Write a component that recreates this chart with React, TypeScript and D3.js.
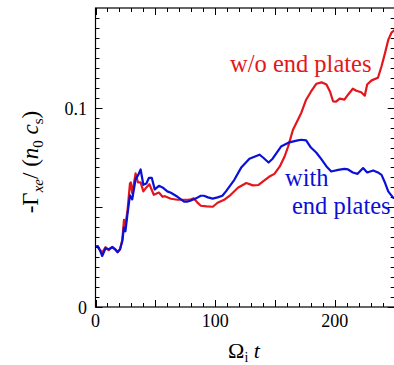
import { useEffect, useRef } from "react";
import * as d3 from "d3";

// time samples and flux for the run without end plates (red)
const redT = [0, 2, 4, 5.6, 8.4, 11, 14, 17, 18.5, 20.5, 22.4, 23.8, 25, 26.8, 28.8, 29.5, 30.7, 33.5, 35.5, 37.7, 40, 42.5, 45, 48.7, 53, 56, 58, 63, 68.5, 74, 77, 80, 82, 85, 88, 93, 98, 102, 107.5, 113, 119, 126, 131.5, 136, 140, 145, 149.5, 154, 158, 161, 165, 168, 172, 176, 180, 184.6, 188.8, 193, 196, 198.5, 201, 204, 208, 211, 215, 218, 222, 225, 227, 230.7, 236, 239, 242, 244.6, 247.5, 250];
const redV = [0.0303, 0.03, 0.0285, 0.0273, 0.03, 0.0285, 0.0302, 0.0288, 0.0275, 0.029, 0.0337, 0.0437, 0.041, 0.0487, 0.062, 0.0625, 0.057, 0.067, 0.0625, 0.0625, 0.058, 0.06, 0.0616, 0.0563, 0.0574, 0.0553, 0.0556, 0.0543, 0.0538, 0.0538, 0.0538, 0.054, 0.0545, 0.0525, 0.0508, 0.0505, 0.0503, 0.0523, 0.0538, 0.0563, 0.0598, 0.0622, 0.061, 0.0612, 0.063, 0.0653, 0.0668, 0.0705, 0.0755, 0.0806, 0.0889, 0.0925, 0.0975, 0.104, 0.108, 0.112, 0.1127, 0.1116, 0.108, 0.1032, 0.103, 0.1045, 0.104, 0.1065, 0.1095, 0.1085, 0.1077, 0.106, 0.1116, 0.1137, 0.115, 0.1208, 0.1276, 0.134, 0.1378, 0.1389];

// time samples and flux for the run with end plates (blue)
const blueT = [0, 2, 4, 5.6, 8.4, 11, 14, 17, 18.5, 20.5, 22.4, 23.8, 25, 26.8, 28.8, 30.7, 33.5, 35.5, 37.7, 40, 42.5, 44.7, 47, 49.5, 53, 56, 60, 63, 68.5, 74, 77, 80, 84, 88, 90.6, 94, 97.9, 102, 106, 109, 116, 121.6, 128.6, 137, 140, 144.6, 148, 155, 162, 169, 172, 176, 180, 184.6, 189, 193, 197, 202.8, 208, 211, 215, 219, 223.6, 227, 232, 236, 239, 242, 244.6, 248.8, 250];
const blueV = [0.0303, 0.0305, 0.028, 0.0256, 0.0295, 0.029, 0.03, 0.0285, 0.0275, 0.029, 0.033, 0.04, 0.038, 0.047, 0.056, 0.054, 0.064, 0.066, 0.069, 0.0613, 0.062, 0.0648, 0.0648, 0.059, 0.0608, 0.06, 0.058, 0.0573, 0.0553, 0.0529, 0.0529, 0.0535, 0.0545, 0.0558, 0.0558, 0.055, 0.0544, 0.055, 0.0558, 0.058, 0.0638, 0.0698, 0.0744, 0.0764, 0.075, 0.0725, 0.0744, 0.0805, 0.0826, 0.0836, 0.0839, 0.0836, 0.08, 0.0774, 0.0739, 0.0705, 0.068, 0.0688, 0.0693, 0.069, 0.0675, 0.0668, 0.0697, 0.0675, 0.0685, 0.0675, 0.0663, 0.0622, 0.058, 0.0548, 0.0545];

const xLabels = [0, 100, 200];
const yLabels = [0, 0.1];

const RED = "#e3161c";
const BLUE = "#0a10d6";
const FONT = "\"Times New Roman\", \"Liberation Serif\", \"DejaVu Serif\", serif";

export default function App() {
  const ref = useRef<SVGSVGElement | null>(null);

  useEffect(() => {
    const svg = d3.select(ref.current);
    svg.selectAll("*").remove();

    const left = 95.5, right = 394.7, top = 8, bottom = 307;
    const x = d3.scaleLinear().domain([0, 250]).range([left, right]);
    const y = d3.scaleLinear().domain([0, 0.15]).range([bottom, top]);

    svg.append("defs").append("clipPath").attr("id", "plot-clip")
      .append("rect").attr("x", left).attr("y", top)
      .attr("width", right - left).attr("height", bottom - top);

    // lines
    const plot = svg.append("g").attr("clip-path", "url(#plot-clip)");
    const line = d3.line<[number, number]>().x(d => x(d[0])).y(d => y(d[1]));
    plot.append("path")
      .attr("d", line(redT.map((t, i) => [t, redV[i]] as [number, number])))
      .attr("fill", "none").attr("stroke", RED).attr("stroke-width", 2.2)
      .attr("stroke-linejoin", "round");
    plot.append("path")
      .attr("d", line(blueT.map((t, i) => [t, blueV[i]] as [number, number])))
      .attr("fill", "none").attr("stroke", BLUE).attr("stroke-width", 2.2)
      .attr("stroke-linejoin", "round");

    // inward ticks on all four sides
    const ticks = svg.append("g").attr("stroke", "#000").attr("stroke-width", 1);
    d3.range(0, 251, 10).forEach(t => {
      const len = t % 50 === 0 ? 7 : 4;
      const px = Math.round(x(t)) + 0.5;
      ticks.append("line").attr("x1", px).attr("x2", px).attr("y1", bottom).attr("y2", bottom - len);
      ticks.append("line").attr("x1", px).attr("x2", px).attr("y1", top).attr("y2", top + len);
    });
    d3.range(0, 30).forEach(i => {
      const v = i * 0.005;
      const len = i % 10 === 0 ? 7 : 4;
      const py = Math.round(y(v)) + 0.5;
      ticks.append("line").attr("x1", left).attr("x2", left + len).attr("y1", py).attr("y2", py);
      ticks.append("line").attr("x1", right).attr("x2", right - len).attr("y1", py).attr("y2", py);
    });

    svg.append("rect")
      .attr("x", left).attr("y", top)
      .attr("width", right - left).attr("height", bottom - top)
      .attr("fill", "none").attr("stroke", "#000").attr("stroke-width", 1.2);

    const txt = svg.append("g").style("font-family", FONT);

    txt.append("g").selectAll("text").data(xLabels).join("text")
      .attr("x", d => x(d)).attr("y", 327)
      .attr("text-anchor", "middle").attr("font-size", 18)
      .text(d => String(d));

    txt.append("g").selectAll("text").data(yLabels).join("text")
      .attr("x", 87).attr("y", d => y(d) + 7)
      .attr("text-anchor", "end").attr("font-size", 18)
      .text(d => String(d));

    // x axis title
    const xt = txt.append("text").attr("x", 244).attr("y", 358)
      .attr("text-anchor", "middle").attr("font-size", 22);
    xt.append("tspan").text("Ω");
    xt.append("tspan").attr("font-size", 14).attr("dy", 4).text("i");
    xt.append("tspan").attr("dy", -4).text(" ");
    xt.append("tspan").attr("font-style", "italic").text("t");

    // y axis title
    const yt = txt.append("text")
      .attr("transform", "translate(38,162) rotate(-90)")
      .attr("text-anchor", "middle").attr("font-size", 23);
    yt.append("tspan").text("-Γ");
    yt.append("tspan").attr("font-size", 15).attr("font-style", "italic").attr("dy", 5).text("xe");
    yt.append("tspan").attr("dy", -5).text("/ (");
    yt.append("tspan").attr("font-style", "italic").text("n");
    yt.append("tspan").attr("font-size", 15).attr("dy", 5).text("0");
    yt.append("tspan").attr("dy", -5).text(" ");
    yt.append("tspan").attr("font-style", "italic").text("c");
    yt.append("tspan").attr("font-size", 15).attr("dy", 5).text("s");
    yt.append("tspan").attr("dy", -5).text(")");

    // series annotations
    txt.append("text").attr("x", 230).attr("y", 72)
      .attr("font-size", 24.5).attr("fill", RED)
      .text("w/o end plates");
    txt.append("text").attr("x", 285).attr("y", 186)
      .attr("font-size", 24.5).attr("fill", BLUE)
      .text("with");
    txt.append("text").attr("x", 292).attr("y", 214)
      .attr("font-size", 24.5).attr("fill", BLUE)
      .text("end plates");
  }, []);

  return (
    <div>
      <svg ref={ref} width={394} height={365}
        style={{ position: "absolute", left: 0, top: 0, background: "#fff" }} />
    </div>
  );
}
